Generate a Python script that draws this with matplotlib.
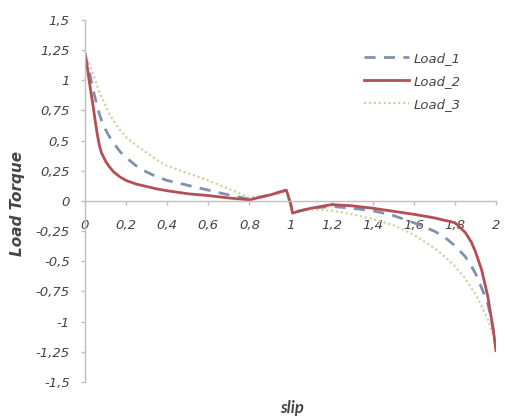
import numpy as np
import matplotlib
matplotlib.use("Agg")
import matplotlib.pyplot as plt

# ---- Data ----
SLIP = [0, 0.01, 0.02, 0.03, 0.04, 0.05, 0.06, 0.07, 0.08, 0.1, 0.12, 0.14, 0.17, 0.2,
        0.25, 0.3, 0.35, 0.4, 0.5, 0.6, 0.7, 0.8, 0.9, 0.98, 1.0, 1.01, 1.05, 1.1,
        1.2, 1.3, 1.4, 1.5, 1.6, 1.7, 1.75, 1.8, 1.85, 1.88, 1.9, 1.93, 1.96, 1.98,
        1.99, 2.0]

LOAD_1 = [1.22, 1.15, 1.08, 1.0, 0.92, 0.85, 0.78, 0.72, 0.67, 0.59, 0.53, 0.48, 0.41, 0.36,
          0.29, 0.24, 0.20, 0.17, 0.13, 0.09, 0.05, 0.015, 0.05, 0.09, -0.02, -0.10, -0.08, -0.06,
          -0.045, -0.06, -0.08, -0.12, -0.18, -0.25, -0.30, -0.37, -0.46, -0.54, -0.60, -0.72, -0.85, -1.0,
          -1.10, -1.22]

LOAD_2 = [1.22, 1.12, 1.0, 0.89, 0.78, 0.66, 0.55, 0.46, 0.40, 0.33, 0.28, 0.24, 0.20, 0.17,
          0.14, 0.12, 0.10, 0.085, 0.06, 0.045, 0.025, 0.01, 0.05, 0.09, -0.02, -0.10, -0.08, -0.06,
          -0.03, -0.04, -0.06, -0.085, -0.11, -0.14, -0.16, -0.18, -0.26, -0.34, -0.42, -0.57, -0.79, -1.0,
          -1.11, -1.24]

LOAD_3 = [1.22, 1.18, 1.14, 1.09, 1.05, 1.0, 0.95, 0.90, 0.86, 0.79, 0.72, 0.66, 0.59, 0.53,
          0.46, 0.40, 0.34, 0.29, 0.23, 0.17, 0.10, 0.03, 0.05, 0.09, -0.02, -0.10, -0.08, -0.07,
          -0.08, -0.11, -0.15, -0.20, -0.28, -0.39, -0.46, -0.54, -0.64, -0.72, -0.77, -0.87, -0.98, -1.08,
          -1.14, -1.20]

XTICKS = [0, 0.2, 0.4, 0.6, 0.8, 1, 1.2, 1.4, 1.6, 1.8, 2]
XTICK_LABELS = ["0", "0,2", "0,4", "0,6", "0,8", "1", "1,2", "1,4", "1,6", "1,8", "2"]
YTICKS = [-1.5, -1.25, -1, -0.75, -0.5, -0.25, 0, 0.25, 0.5, 0.75, 1, 1.25, 1.5]
YTICK_LABELS = ["-1,5", "-1,25", "-1", "-0,75", "-0,5", "-0,25", "0",
                "0,25", "0,5", "0,75", "1", "1,25", "1,5"]

FONT = "DejaVu Sans"
TXT = "#454545"
AX_COL = "#BFBFBF"


def main():
    fig = plt.figure(figsize=(5.05, 4.17), dpi=100)
    ax = fig.add_axes([85 / 505, 1 - 382 / 417, 411 / 505, 362 / 417])

    ax.plot(SLIP, LOAD_1, color="#8192AC", lw=2.0, ls=(0, (4, 3)), label="Load_1")
    ax.plot(SLIP, LOAD_3, color="#C9D6A2", lw=1.6, ls=(0, (1, 1.2)), label="Load_3")
    ax.plot(SLIP, LOAD_2, color="#B24F57", lw=2.0, label="Load_2")

    ax.set_xlim(0, 2)
    ax.set_ylim(-1.5, 1.5)

    # axes cross at zero like Excel
    ax.spines["bottom"].set_position(("data", 0))
    ax.spines["top"].set_visible(False)
    ax.spines["right"].set_visible(False)
    for s in ("left", "bottom"):
        ax.spines[s].set_color(AX_COL)
        ax.spines[s].set_linewidth(1.0)

    ax.set_xticks(XTICKS)
    ax.set_xticklabels(XTICK_LABELS, fontfamily=FONT, fontstyle="italic",
                       fontsize=9.5, color=TXT)
    ax.set_yticks(YTICKS)
    ax.set_yticklabels(YTICK_LABELS, fontfamily=FONT, fontstyle="italic",
                       fontsize=9.5, color=TXT)
    ax.tick_params(axis="both", direction="out", length=3, color=AX_COL, width=1)
    ax.tick_params(axis="x", pad=10)
    ax.tick_params(axis="y", pad=8)

    fig.text(18 / 505, 1 - 203 / 417, "Load Torque", rotation=90, ha="center",
             va="center", fontfamily=FONT, fontstyle="italic", fontweight="bold",
             fontsize=11, color=TXT)
    fig.text(292 / 505, 1 - 408 / 417, "slip", ha="center", va="center",
             fontfamily="Lato", fontstyle="italic", fontweight="bold",
             fontsize=12, color=TXT)

    handles, labels = ax.get_legend_handles_labels()
    order = [0, 2, 1]
    leg = ax.legend([handles[i] for i in order], [labels[i] for i in order],
                    loc="upper left", bbox_to_anchor=(352 / 505, 1 - 40 / 417),
                    bbox_transform=fig.transFigure, frameon=False,
                    handlelength=3.4, handletextpad=0.4, labelspacing=0.75,
                    prop={"family": FONT, "style": "italic", "size": 9.5})
    for t in leg.get_texts():
        t.set_color(TXT)

    fig.savefig("out.png", dpi=100)


if __name__ == "__main__":
    main()
